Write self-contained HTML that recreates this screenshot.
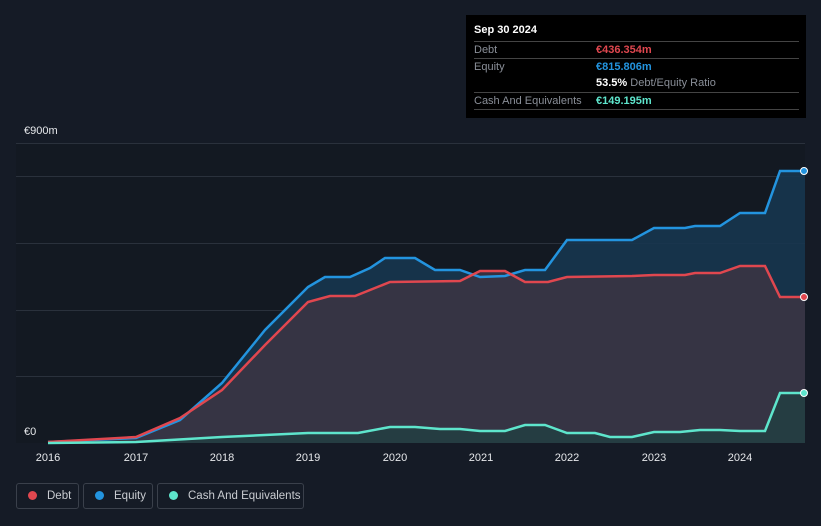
<!DOCTYPE html>
<html><head><meta charset="utf-8"><style>
html,body{margin:0;width:821px;height:526px;overflow:hidden}
body{background:#151b26;font-family:"Liberation Sans",sans-serif;position:relative}
.tt{position:absolute;left:466px;top:15px;width:340px;height:103px;background:#000;color:#fff;font-size:11px}
.tt .r{position:absolute;left:8px;width:325px;border-top:1px solid #444;height:17px;line-height:17px}
.lab{color:#8a8f98}
.leg{position:absolute;top:483px;height:26px;border:1px solid #3a404b;border-radius:3px;color:#c9ccd1;font-size:11.5px;line-height:24px;box-sizing:border-box;white-space:nowrap}
.dot{display:inline-block;width:9px;height:9px;border-radius:50%;margin:0 10px 0 11px;vertical-align:-1px}
</style></head><body>
<svg width="821" height="526" style="position:absolute;left:0;top:0">
<rect x="16" y="143" width="789" height="300" fill="#131922"/>
<g stroke="#2a313c" stroke-width="1">
<line x1="16" y1="176.5" x2="805" y2="176.5"/><line x1="16" y1="243.5" x2="805" y2="243.5"/><line x1="16" y1="310.5" x2="805" y2="310.5"/><line x1="16" y1="376.5" x2="805" y2="376.5"/>
</g>
<line x1="16" y1="143.5" x2="805" y2="143.5" stroke="#2a313c"/>
<polygon fill="#17364f" opacity="0.9" points="48,442 136,438 180,420 222,383 265,330 308,287 325,277 350,277 370,268 385,258 415,258 435,270 460,270 480,277 505,276 525,270 545,270 567,240 632,240 654,228 685,228 695,226 720,226 740,213 765,213 780,171 805,171 805,443 48,443"/>
<polygon fill="#3a3444" opacity="0.9" points="48,442 136,437 180,418 222,390 265,345 308,302 330,296 355,296 390,282 460,281 480,271 505,271 525,282 548,282 567,277 632,276 654,275 685,275 695,273 720,273 740,266 765,266 780,297 805,297 805,443 48,443"/>
<polygon fill="#243e42" opacity="0.9" points="48,443 136,442 222,437 308,433 358,433 390,427 415,427 440,429 460,429 480,431 505,431 525,425 545,425 567,433 595,433 610,437 632,437 654,432 680,432 700,430 720,430 740,431 765,431 780,393 805,393 805,443 48,443"/>
<polyline fill="none" stroke="#2394df" stroke-width="2.5" points="48,442 136,438 180,420 222,383 265,330 308,287 325,277 350,277 370,268 385,258 415,258 435,270 460,270 480,277 505,276 525,270 545,270 567,240 632,240 654,228 685,228 695,226 720,226 740,213 765,213 780,171 805,171"/>
<polyline fill="none" stroke="#e0474f" stroke-width="2.5" points="48,442 136,437 180,418 222,390 265,345 308,302 330,296 355,296 390,282 460,281 480,271 505,271 525,282 548,282 567,277 632,276 654,275 685,275 695,273 720,273 740,266 765,266 780,297 805,297"/>
<polyline fill="none" stroke="#5ee5cc" stroke-width="2.5" points="48,443 136,442 222,437 308,433 358,433 390,427 415,427 440,429 460,429 480,431 505,431 525,425 545,425 567,433 595,433 610,437 632,437 654,432 680,432 700,430 720,430 740,431 765,431 780,393 805,393"/>
<circle cx="804" cy="171" r="3.5" fill="#2394df" stroke="#fff" stroke-width="1"/>
<circle cx="804" cy="297" r="3.5" fill="#e0474f" stroke="#fff" stroke-width="1"/>
<circle cx="804" cy="393" r="3.5" fill="#5ee5cc" stroke="#fff" stroke-width="1"/>
<g fill="#e6e8eb" font-size="11" font-family="Liberation Sans">
<text x="24" y="134">€900m</text><text x="24" y="435">€0</text>
<g text-anchor="middle"><text x="48" y="461">2016</text><text x="136" y="461">2017</text><text x="222" y="461">2018</text><text x="308" y="461">2019</text><text x="395" y="461">2020</text><text x="481" y="461">2021</text><text x="567" y="461">2022</text><text x="654" y="461">2023</text><text x="740" y="461">2024</text></g>
</g>
</svg>
<div class="tt">
<div style="position:absolute;left:8px;top:9px;font-weight:bold">Sep 30 2024</div>
<div class="r" style="top:26px"><span class="lab">Debt</span><span style="position:absolute;left:122px;color:#e0474f;font-weight:bold">€436.354m</span></div>
<div class="r" style="top:43px"><span class="lab">Equity</span><span style="position:absolute;left:122px;color:#2394df;font-weight:bold">€815.806m</span></div>
<div class="r" style="top:60px;border-top:none"><span style="position:absolute;left:122px"><b>53.5%</b> <span class="lab">Debt/Equity Ratio</span></span></div>
<div class="r" style="top:77px"><span class="lab">Cash And Equivalents</span><span style="position:absolute;left:122px;color:#5ee5cc;font-weight:bold">€149.195m</span></div>
<div class="r" style="top:94px;height:0"></div>
</div>
<div class="leg" style="left:16px;width:63px"><span class="dot" style="background:#e0474f"></span>Debt</div>
<div class="leg" style="left:83px;width:70px"><span class="dot" style="background:#2394df"></span>Equity</div>
<div class="leg" style="left:157px;width:147px"><span class="dot" style="background:#5ee5cc"></span>Cash And Equivalents</div>
</body></html>
